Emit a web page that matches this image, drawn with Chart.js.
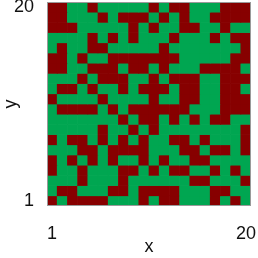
<!DOCTYPE html>
<html>
<head>
<meta charset="utf-8">
<script src="https://cdn.jsdelivr.net/npm/chart.js@4"></script>
<style>
  html, body { margin: 0; padding: 0; background: #fff; }
  #wrap { width: 258px; height: 258px; }
</style>
</head>
<body>
<div id="wrap"><canvas id="gridChart"></canvas></div>
<script>
const xLabels = ["1","2","3","4","5","6","7","8","9","10","11","12","13","14","15","16","17","18","19","20"];
const yValues = [20,19,18,17,16,15,14,13,12,11,10,9,8,7,6,5,4,3,2,1];
const yTicks = [1, 20];

// 1 = red, 0 = green; rows listed top (y = 20) to bottom (y = 1)
const row20 = [1,1,0,0,1,0,0,0,0,0,1,0,1,1,0,0,0,1,1,1];
const row19 = [1,1,0,0,0,1,0,1,1,1,0,1,0,1,0,0,1,1,1,1];
const row18 = [1,1,1,0,0,0,0,0,1,0,1,0,0,1,1,0,0,1,0,0];
const row17 = [0,0,0,0,1,0,1,0,1,0,0,0,1,0,0,0,1,0,1,1];
const row16 = [0,1,0,0,1,1,0,0,0,0,0,1,0,0,0,0,0,0,0,1];
const row15 = [1,1,0,1,0,0,1,1,1,1,1,1,1,0,0,0,0,0,1,1];
const row14 = [1,1,0,0,1,1,1,0,1,1,0,1,0,0,0,1,1,1,1,0];
const row13 = [0,0,0,1,0,1,1,1,0,0,1,0,1,1,1,0,0,1,1,1];
const row12 = [0,1,1,0,1,0,0,1,0,1,1,1,0,1,1,0,0,1,1,0];
const row11 = [1,0,0,0,0,1,0,0,0,0,1,0,0,1,1,0,0,1,1,1];
const row10 = [0,1,1,1,1,0,1,0,1,1,1,1,1,1,0,0,0,1,1,1];
const row9  = [0,0,0,0,0,0,0,1,0,1,1,0,1,0,1,0,1,1,0,0];
const row8  = [0,0,0,0,0,1,0,0,1,0,1,0,0,0,0,0,0,0,0,1];
const row7  = [1,0,1,1,0,1,0,1,0,1,0,0,1,1,0,1,0,0,0,1];
const row6  = [0,0,0,1,1,0,1,1,1,1,0,0,0,1,1,0,1,1,0,1];
const row5  = [1,0,1,0,1,0,1,0,0,1,0,1,0,0,1,1,0,0,0,0];
const row4  = [1,0,0,1,0,0,0,1,1,0,1,0,1,1,0,0,1,0,1,0];
const row3  = [0,0,0,1,0,0,0,1,0,0,0,0,0,0,1,1,0,0,0,1];
const row2  = [0,1,1,0,0,0,1,1,0,1,1,1,1,0,0,0,1,1,0,0];
const row1  = [1,0,1,1,1,1,0,0,0,1,0,1,1,0,0,0,1,0,1,0];
const rows = [row20,row19,row18,row17,row16,row15,row14,row13,row12,row11,
              row10,row9,row8,row7,row6,row5,row4,row3,row2,row1];

const colors = ["#00a651", "#870000"];

const datasets = rows.map((row, r) => {
  const y = yValues[r];
  return {
    label: "y=" + y,
    data: xLabels.map(() => [y - 0.5, y + 0.5]),
    backgroundColor: row.map(v => colors[v]),
    borderWidth: 0,
    borderSkipped: false,
    grouped: false,
    barPercentage: 1,
    categoryPercentage: 1
  };
});

// frame around the plot area
const frame = {
  id: "frame",
  afterDatasetsDraw(chart) {
    const a = chart.chartArea;
    const ctx = chart.ctx;
    ctx.save();
    ctx.strokeStyle = "#9a9a9a";
    ctx.lineWidth = 1;
    ctx.strokeRect(a.left + 0.5, a.top + 0.5, a.right - a.left - 1, a.bottom - a.top - 1);
    ctx.restore();
  }
};

new Chart(document.getElementById("gridChart"), {
  type: "bar",
  data: { labels: xLabels, datasets: datasets },
  plugins: [frame],
  options: {
    responsive: true,
    maintainAspectRatio: false,
    animation: false,
    layout: { padding: { top: 2, right: 7, left: 0, bottom: 0 } },
    plugins: {
      legend: { display: false },
      tooltip: { enabled: false }
    },
    scales: {
      x: {
        type: "category",
        grid: { display: false },
        border: { display: false },
        ticks: {
          autoSkip: false,
          maxRotation: 0,
          padding: 9,
          color: "#111",
          font: { family: "Liberation Sans", size: 18 },
          callback: function(value, index) {
            return (index === 0 || index === xLabels.length - 1) ? this.getLabelForValue(value) : "";
          }
        },
        title: {
          display: true,
          text: "x",
          color: "#111",
          padding: { top: 6, bottom: 0 },
          font: { family: "Liberation Sans", size: 18 }
        },
        afterFit: function(scale) {
          scale.height = 52;
          scale.paddingLeft = 0;
          scale.paddingRight = 0;
        }
      },
      y: {
        type: "linear",
        min: 0.5,
        max: 20.5,
        grid: { display: false },
        border: { display: false },
        afterBuildTicks: function(axis) {
          axis.ticks = yTicks.map(v => ({ value: v }));
        },
        ticks: {
          padding: 5,
          color: "#111",
          font: { family: "Liberation Sans", size: 18 }
        },
        title: {
          display: true,
          text: "y",
          color: "#111",
          padding: { top: 0, bottom: 0 },
          font: { family: "Liberation Sans", size: 18 }
        },
        afterFit: function(scale) {
          scale.width = 47;
          scale.paddingTop = 0;
          scale.paddingBottom = 0;
        }
      }
    }
  }
});
</script>
</body>
</html>
